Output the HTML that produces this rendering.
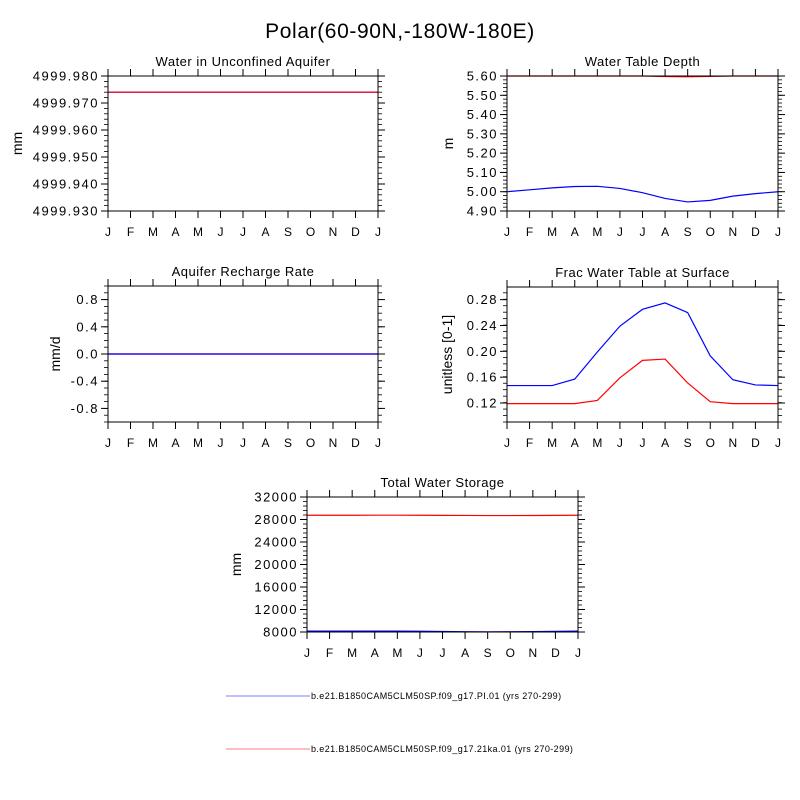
<!DOCTYPE html>
<html><head><meta charset="utf-8"><style>
html,body{margin:0;padding:0;background:#fff;}
svg{display:block;font-family:"Liberation Sans",sans-serif;}
</style></head><body>
<svg id="fig" width="800" height="800" viewBox="0 0 800 800">
<text x="400" y="38" text-anchor="middle" font-size="21" letter-spacing="0.6">Polar(60-90N,-180W-180E)</text>
<g>
<line x1="226" y1="696" x2="310" y2="696" stroke="#a8a8ff" stroke-width="1.5"/>
<text x="311" y="699" font-size="9" letter-spacing="0.4">b.e21.B1850CAM5CLM50SP.f09_g17.PI.01 (yrs 270-299)</text>
<line x1="226" y1="749" x2="310" y2="749" stroke="#ffa8a8" stroke-width="1.5"/>
<text x="311" y="752" font-size="9" letter-spacing="0.4">b.e21.B1850CAM5CLM50SP.f09_g17.21ka.01 (yrs 270-299)</text>
</g>
</svg>
<script>
const months = ["J","F","M","A","M","J","J","A","S","O","N","D","J"];
const aquiferBlue = [4999.974,4999.974,4999.974,4999.974,4999.974,4999.974,4999.974,4999.974,4999.974,4999.974,4999.974,4999.974,4999.974];
const aquiferRed  = [4999.974,4999.974,4999.974,4999.974,4999.974,4999.974,4999.974,4999.974,4999.974,4999.974,4999.974,4999.974,4999.974];
const wtdBlue = [5.00,5.01,5.02,5.027,5.028,5.017,4.995,4.965,4.947,4.955,4.977,4.99,5.00];
const wtdRed  = [5.60,5.60,5.60,5.60,5.60,5.60,5.60,5.597,5.596,5.598,5.60,5.60,5.60];
const rechargeBlue = [0,0,0,0,0,0,0,0,0,0,0,0,0];
const rechargeRed  = [0,0,0,0,0,0,0,0,0,0,0,0,0];
const fracBlue = [0.147,0.147,0.147,0.157,0.199,0.239,0.265,0.275,0.260,0.193,0.156,0.148,0.147];
const fracRed  = [0.119,0.119,0.119,0.119,0.124,0.159,0.186,0.188,0.151,0.122,0.119,0.119,0.119];
const twsBlue = [8150,8150,8160,8160,8150,8140,8100,8050,8030,8040,8080,8120,8150];
const twsRed  = [28750,28750,28760,28770,28770,28760,28740,28720,28700,28700,28710,28730,28750];
const ticks1 = ["4999.930","4999.940","4999.950","4999.960","4999.970","4999.980"];
const ticks2 = ["4.90","5.00","5.10","5.20","5.30","5.40","5.50","5.60"];
const ticks3 = ["-0.8","-0.4","0.0","0.4","0.8"];
const ticks4 = ["0.12","0.16","0.20","0.24","0.28"];
const ticks5 = ["8000","12000","16000","20000","24000","28000","32000"];

const NS="http://www.w3.org/2000/svg";
const svg=document.getElementById('fig');
function mk(tag,attrs,parent){const e=document.createElementNS(NS,tag);for(const k in attrs)e.setAttribute(k,attrs[k]);(parent||svg).appendChild(e);return e;}

function panel(cfg){
  const g=mk('g',{});
  
  
  const {x0,x1,y0,y1,ymin,ymax}=cfg;
  const X=i=>x0+(x1-x0)*i/(months.length-1);
  const Y=v=>y1-(y1-y0)*(v-ymin)/(ymax-ymin);
  const t=mk('text',{x:(x0+x1)/2,y:y0-10,'text-anchor':'middle','font-size':13,'letter-spacing':0.5},g);
  t.textContent=cfg.title;
  
  
  for(let v=cfg.ymin;v<=cfg.ymax+1e-9;v+=cfg.minor){
    const yy=Y(v);
    mk('line',{x1:x0-4,y1:yy,x2:x0,y2:yy,stroke:'#000','stroke-width':0.8},g);
    mk('line',{x1:x1,y1:yy,x2:x1+4,y2:yy,stroke:'#000','stroke-width':0.8},g);
  }
  cfg.ticks.forEach(s=>{
    const yy=Y(parseFloat(s));
    mk('line',{x1:x0-7,y1:yy,x2:x0,y2:yy,stroke:'#000','stroke-width':1},g);
    mk('line',{x1:x1,y1:yy,x2:x1+7,y2:yy,stroke:'#000','stroke-width':1},g);
    const tt=mk('text',{x:x0-9,y:yy+4.5,'text-anchor':'end','font-size':13,'letter-spacing':1.5},g);
    tt.textContent=s;
    
    
  });
  months.forEach((m,i)=>{
    const xx=X(i);
    mk('line',{x1:xx,y1:y1,x2:xx,y2:y1+7,stroke:'#000','stroke-width':1},g);
    mk('line',{x1:xx,y1:y0-7,x2:xx,y2:y0,stroke:'#000','stroke-width':1},g);
    const tt=mk('text',{x:xx,y:y1+25,'text-anchor':'middle','font-size':12},g);
    tt.textContent=m;
    
    
  });
  const yl=mk('text',{x:0,y:0,'text-anchor':'middle','font-size':14,transform:`translate(${cfg.ylx},${(y0+y1)/2}) rotate(-90)`},g);
  yl.textContent=cfg.ylabel;
  
  
  const cid='clip'+cfg.name;
  const cp=mk('clipPath',{id:cid},g);
  mk('rect',{x:x0,y:y0-1,width:x1-x0,height:y1-y0+2},cp);
  const draw=(arr,col,nm)=>{
    const p=mk('polyline',{points:arr.map((v,i)=>X(i)+','+Y(v)).join(' '),fill:'none',stroke:col,'stroke-width':1.2,'clip-path':`url(#${cid})`},g);
    
    
  };
  if(cfg.blueOnTop){
    draw(cfg.red,'#ff0000','series-21ka');
    draw(cfg.blue,'#0000ff','series-pi');
  } else {
    draw(cfg.blue,'#0000ff','series-pi');
    draw(cfg.red,'#ff0000','series-21ka');
  }
  const r=mk('rect',{x:x0,y:y0,width:x1-x0,height:y1-y0,fill:'none',stroke:'#000','stroke-width':1},g);
  
  
}
panel({name:'panel-aquifer-water',title:'Water in Unconfined Aquifer',x0:108,x1:378,y0:76,y1:211,ymin:4999.93,ymax:4999.98,minor:0.002,ticks:ticks1,ylabel:'mm',ylx:22,blue:aquiferBlue,red:aquiferRed});
panel({name:'panel-water-table-depth',title:'Water Table Depth',x0:507,x1:778,y0:76,y1:211,ymin:4.90,ymax:5.60,minor:0.02,ticks:ticks2,ylabel:'m',ylx:453,blue:wtdBlue,red:wtdRed});
panel({name:'panel-recharge',title:'Aquifer Recharge Rate',x0:108,x1:378,y0:286,y1:422,ymin:-1,ymax:1,minor:0.1,ticks:ticks3,ylabel:'mm/d',ylx:60,blue:rechargeBlue,red:rechargeRed,blueOnTop:true});
panel({name:'panel-frac-water-table',title:'Frac Water Table at Surface',x0:507,x1:778,y0:287,y1:422,ymin:0.0906,ymax:0.2996,minor:0.01,ticks:ticks4,ylabel:'unitless [0-1]',ylx:452,blue:fracBlue,red:fracRed});
panel({name:'panel-total-water-storage',title:'Total Water Storage',x0:307,x1:578,y0:497,y1:632,ymin:8000,ymax:32000,minor:800,ticks:ticks5,ylabel:'mm',ylx:241,blue:twsBlue,red:twsRed,blueOnTop:true});
</script>
</body></html>
